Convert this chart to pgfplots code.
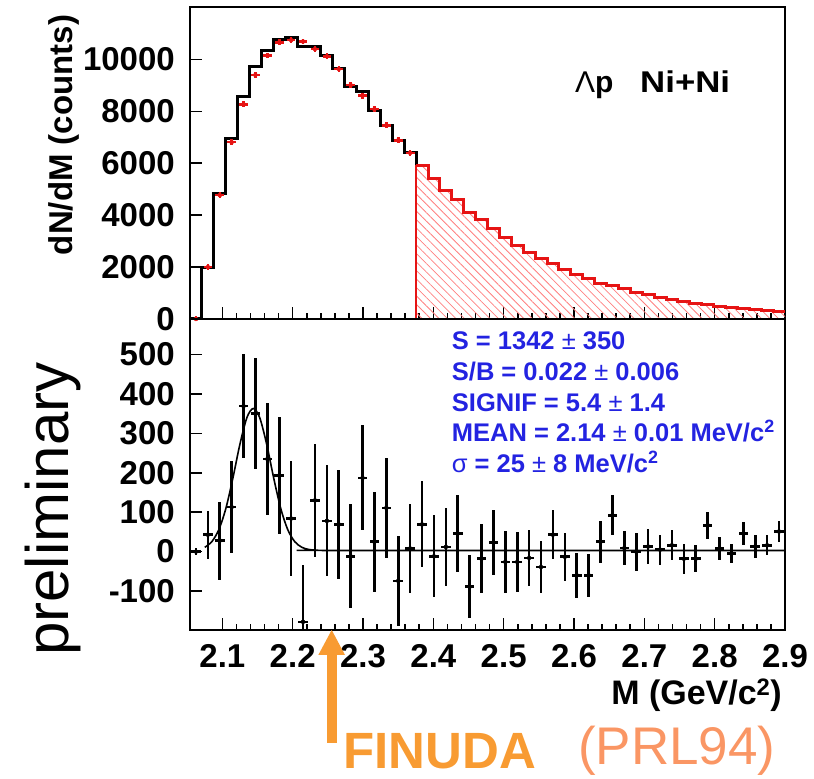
\documentclass[border=0pt]{standalone}
\usepackage{pgfplots}
\pgfplotsset{compat=1.18}
\usepackage{fontspec}
\setmainfont{Liberation Sans}
\usetikzlibrary{patterns.meta}
\definecolor{rootblue}{RGB}{35,35,225}
\definecolor{finuda}{RGB}{248,155,50}
\definecolor{prl}{RGB}{250,150,100}
\definecolor{hred}{RGB}{230,20,20}

\pgfplotstableread{
x y
2.0540 0
2.0709 1998
2.0878 4829
2.1048 6950
2.1217 8582
2.1386 9712
2.1555 10356
2.1724 10769
2.1894 10831
2.2063 10510
2.2232 10484
2.2401 10163
2.2570 9650
2.2740 8968
2.2909 8748
2.3078 8042
2.3247 7463
2.3416 6885
2.3586 6395
2.3755 5920
2.3924 5407
2.4093 4956
2.4262 4609
2.4432 4119
2.4601 3826
2.4770 3502
2.4939 3155
2.5108 2835
2.5278 2577
2.5447 2322
2.5616 2129
2.5785 1898
2.5954 1716
2.6124 1550
2.6293 1381
2.6462 1292
2.6631 1165
2.6800 1034
2.6970 933
2.7139 841
2.7308 752
2.7477 675
2.7646 609
2.7816 548
2.7985 482
2.8154 444
2.8323 393
2.8492 366
2.8662 328
2.8831 289
2.9000 289
}\blackhist

\pgfplotstableread{
x y
2.3755 5920
2.3924 5407
2.4093 4956
2.4262 4609
2.4432 4119
2.4601 3826
2.4770 3502
2.4939 3155
2.5108 2835
2.5278 2577
2.5447 2322
2.5616 2129
2.5785 1898
2.5954 1716
2.6124 1550
2.6293 1381
2.6462 1292
2.6631 1165
2.6800 1034
2.6970 933
2.7139 841
2.7308 752
2.7477 675
2.7646 609
2.7816 548
2.7985 482
2.8154 444
2.8323 393
2.8492 366
2.8662 328
2.8831 289
2.9000 289
}\redtail

\pgfplotstableread{
x y
2.0625 0
2.0794 1998
2.0963 4770
2.1132 6810
2.1301 8270
2.1470 9400
2.1640 10150
2.1809 10660
2.1978 10740
2.2147 10690
2.2316 10400
2.2486 10120
2.2655 9630
2.2824 9010
2.2993 8600
2.3162 8080
2.3332 7460
2.3501 6885
2.3670 6400
}\redpts

\pgfplotstableread{
x y e
2.0625 0 8
2.0794 43 61
2.0963 28 99
2.1132 113 116
2.1301 369 132
2.1470 350 140
2.1640 235 143
2.1809 193 148
2.1978 84 146
2.2147 -178 145
2.2316 130 143
2.2486 78 141
2.2655 69 139
2.2824 -12 132
2.2993 187 133
2.3162 25 127
2.3332 111 127
2.3501 -74 114
2.3670 8 112
2.3839 69 109
2.4008 -12 104
2.4178 12 99
2.4347 46 97
2.4516 -89 80
2.4685 -18 88
2.4854 23 83
2.5024 -26 78
2.5193 -26 76
2.5362 -16 71
2.5531 -39 67
2.5700 43 62
2.5870 -13 61
2.6039 -60 57
2.6208 -60 55
2.6377 25 53
2.6546 92 51
2.6716 9 44
2.6885 0 48
2.7054 13 44
2.7223 5 38
2.7392 16 38
2.7562 -18 38
2.7731 -18 34
2.7900 67 34
2.8069 8 30
2.8238 -5 25
2.8408 46 30
2.8577 13 28
2.8746 16 25
2.8915 51 27
}\sigpts

\pgfplotsset{
  panel/.style={
    scale only axis, width=595pt, height=311.5pt,
    xmin=2.054, xmax=2.9,
    scaled x ticks=false, scaled y ticks=false,
    axis line style={line width=2pt},
    tick align=inside,
    xtick pos=left, ytick pos=left,
    major tick length=12pt, minor tick length=6pt,
    tick style={line width=1.6pt, black},
    xtick={2.1,2.2,2.3,2.4,2.5,2.6,2.7,2.8,2.9},
    minor x tick num=4,
    ticklabel style={font=\fontsize{33}{33}\selectfont\bfseries},
    yticklabel style={inner sep=0pt, xshift=-15pt},
    xticklabel style={inner sep=0pt, yshift=-14pt},
  }
}

\begin{document}
\begin{tikzpicture}[x=1pt,y=1pt]
\useasboundingbox (0,0) rectangle (814,779);

\begin{axis}[panel, at={(190pt,460pt)}, anchor=south west,
  ymin=0, ymax=12000,
  ytick={0,2000,4000,6000,8000,10000},
  yticklabels={0,2000,4000,6000,8000,10000},
  xticklabels={}]
  \addplot[const plot, draw=none, pattern={Lines[angle=-45,distance=6pt,line width=0.8pt]}, pattern color=red!50] table[x=x,y=y] {\redtail} \closedcycle;
  \addplot[const plot, black, line width=3pt] table[x=x,y=y] {\blackhist};
  \addplot[const plot, hred, line width=3pt] table[x=x,y=y] {\redtail};
  \addplot[hred, line width=2pt] coordinates {(2.3755,0) (2.3755,5920)};
  \addplot[only marks, mark=none, hred, error bars/.cd, x dir=both, x fixed=0.0062, y dir=both, y fixed=110, error mark=none, error bar style={line width=2.5pt, hred}] table[x=x,y=y] {\redpts};
\end{axis}

\begin{axis}[panel, at={(190pt,148.5pt)}, anchor=south west,
  ymin=-200, ymax=590,
  ytick={-100,0,100,200,300,400,500},
  yticklabels={-100,0,100,200,300,400,500},
  xticklabels={2.1,2.2,2.3,2.4,2.5,2.6,2.7,2.8,2.9}]
  \addplot[only marks, mark=none, black, error bars/.cd, x dir=both, x fixed=0.0068, y dir=both, y explicit, error mark=none, error bar style={line width=2.6pt, black}] table[x=x,y=y,y error=e] {\sigpts};
  \addplot[black, line width=1.6pt, smooth] coordinates {
    (2.075,11) (2.085,25.2) (2.095,55.7) (2.105,109.6) (2.115,186.7) (2.125,272.6) (2.135,340.4) (2.144,363)
    (2.153,340.4) (2.163,272.6) (2.173,186.7) (2.183,109.6) (2.193,55.7) (2.203,25.2) (2.213,11) (2.223,5.4) (2.235,3.5) (2.25,3) (2.9,3)};
\end{axis}

% axis titles
\node[rotate=90, anchor=base, inner sep=0pt, font=\fontsize{33}{33}\selectfont\bfseries] at (72,644) {dN/dM (counts)};
\node[rotate=90, anchor=base, inner sep=0pt, font=\fontsize{60}{60}\selectfont] at (68.5,270) {preliminary};
\node[anchor=base east, inner sep=0pt, font=\fontsize{34}{34}\selectfont\bfseries] at (782,74) {M (GeV/c\textsuperscript{2})};

% upper label
\node[anchor=base west, inner sep=0pt, font=\fontsize{30}{30}\selectfont] at (575,686) {Λ\textbf{p}};
\node[anchor=base west, inner sep=0pt, xscale=1.16, font=\fontsize{30}{30}\selectfont\bfseries] at (640,686) {Ni+Ni};

% fit results
\begin{scope}[every node/.style={anchor=base west, inner sep=0pt, text=rootblue, font=\fontsize{25.5}{25.5}\selectfont\bfseries}]
\node at (451.7,429) {S = 1342 {\mdseries ±} 350};
\node at (451.7,398) {S/B = 0.022 {\mdseries ±} 0.006};
\node at (451.7,367) {SIGNIF = 5.4 {\mdseries ±} 1.4};
\node at (451.7,337) {MEAN = 2.14 {\mdseries ±} 0.01 MeV/c\textsuperscript{2}};
\node at (451.7,306) {{\mdseries σ} = 25 {\mdseries ±} 8 MeV/c\textsuperscript{2}};
\end{scope}

% FINUDA arrow and label
\fill[finuda] (326.7,36) rectangle (336.7,125);
\fill[finuda] (318.3,124) -- (345,124) -- (331.7,149) -- cycle;
\node[anchor=base west, inner sep=0pt, text=finuda, font=\fontsize{51}{51}\selectfont\bfseries] at (343,10) {FINUDA};
\node[anchor=base west, inner sep=0pt, text=prl, font=\fontsize{53}{53}\selectfont] at (578,14) {(PRL94)};
\end{tikzpicture}
\end{document}
